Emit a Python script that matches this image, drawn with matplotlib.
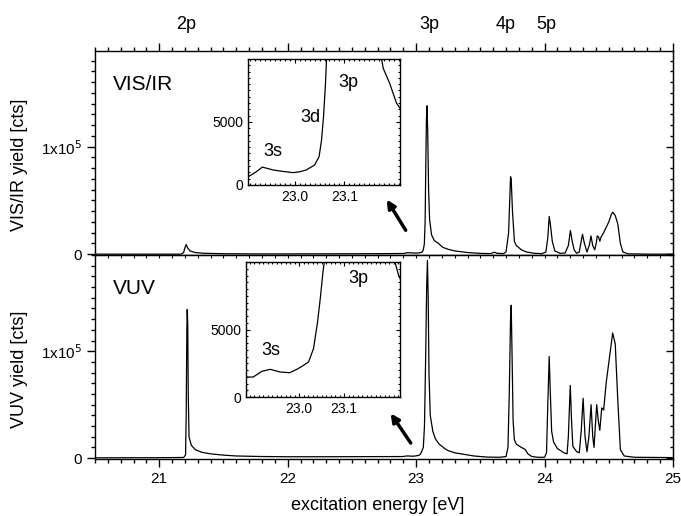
import numpy as np
import matplotlib.pyplot as plt
import matplotlib.transforms as mtransforms
from matplotlib.ticker import MultipleLocator, FixedLocator, NullFormatter

plt.rcParams['font.family'] = ['Liberation Sans', 'DejaVu Sans']

# VIS/IR fluorescence yield (eV, counts)
visir_energy = [20.5, 21.0, 21.17, 21.19, 21.2, 21.21, 21.22, 21.24, 21.28, 21.35, 21.5, 21.8,
                22.3, 22.6, 22.8, 22.88, 22.905, 22.92, 22.934, 22.956, 22.975, 22.996, 23.01,
                23.023, 23.04, 23.049, 23.054, 23.058, 23.062, 23.064, 23.07, 23.075, 23.08,
                23.085, 23.09, 23.097, 23.105, 23.12, 23.14, 23.16, 23.176, 23.179, 23.192,
                23.206, 23.213, 23.25, 23.3, 23.4, 23.5, 23.58, 23.61, 23.63, 23.68, 23.7,
                23.72, 23.73, 23.735, 23.74, 23.75, 23.765, 23.78, 23.82, 23.86, 23.92, 23.98,
                24.01, 24.025, 24.036, 24.045, 24.06, 24.08, 24.12, 24.16, 24.185, 24.201,
                24.215, 24.23, 24.25, 24.27, 24.285, 24.295, 24.31, 24.33, 24.35, 24.361,
                24.375, 24.39, 24.402, 24.41, 24.42, 24.43, 24.44, 24.46, 24.5, 24.52, 24.53,
                24.55, 24.57, 24.59, 24.61, 24.65, 24.8, 25.0]
visir_counts = [0, 0, 0, 1500, 6000, 9000, 6000, 3000, 1500, 800, 400, 200,
                300, 400, 500, 600, 650, 1000, 1420, 1190, 1080, 980, 1050,
                1190, 1590, 2250, 3570, 5420, 8070, 9900, 30000, 80000, 125000,
                138000, 115000, 60000, 32000, 18000, 13000, 11000, 9900, 9260, 8070,
                6480, 6100, 4500, 3000, 1500, 700, 500, 1800, 800, 500, 2000,
                20000, 55000, 72000, 70000, 40000, 12000, 8000, 4000, 2000, 800, 500,
                2000, 15000, 35000, 28000, 12000, 3000, 800, 1000, 8000, 22000,
                12000, 4000, 800, 2000, 12000, 18500, 10000, 2000, 9000, 17000,
                8000, 4000, 10000, 17000, 16000, 12000, 16000, 20000, 30000, 37000, 39000,
                36000, 28000, 10000, 2000, 300, 0, 0]

# VUV fluorescence yield (eV, counts)
vuv_energy = [20.5, 21.0, 21.19, 21.205, 21.21, 21.215, 21.218, 21.222, 21.226, 21.232, 21.25,
              21.28, 21.33, 21.4, 21.5, 21.6, 21.8, 22.0, 22.3, 22.6, 22.8, 22.882, 22.898,
              22.917, 22.936, 22.958, 22.979, 22.995, 23.01, 23.021, 23.032, 23.041, 23.047,
              23.053, 23.056, 23.065, 23.075, 23.082, 23.088, 23.094, 23.1, 23.11, 23.13,
              23.15, 23.18, 23.213, 23.221, 23.25, 23.3, 23.35, 23.45, 23.55, 23.65, 23.7,
              23.715, 23.725, 23.735, 23.74, 23.745, 23.755, 23.765, 23.78, 23.82, 23.85,
              23.87, 23.9, 23.95, 24.0, 24.015, 24.025, 24.036, 24.045, 24.055, 24.07, 24.1,
              24.15, 24.175, 24.185, 24.2, 24.21, 24.22, 24.25, 24.27, 24.285, 24.3, 24.315,
              24.33, 24.345, 24.362, 24.375, 24.385, 24.395, 24.406, 24.418, 24.43, 24.445,
              24.46, 24.48, 24.53, 24.55, 24.57, 24.59, 24.62, 24.7, 25.0]
vuv_counts = [300, 400, 600, 3000, 40000, 120000, 139000, 125000, 60000, 20000, 12000,
              8000, 5500, 4000, 2800, 2000, 1500, 1300, 1300, 1400, 1450, 1480, 1480,
              1900, 2050, 1850, 1800, 2050, 2350, 2600, 3580, 5560, 7290,
              9260, 10000, 30000, 100000, 160000, 185000, 150000, 80000, 40000, 25000,
              18000, 13000, 10000, 9010, 7000, 5000, 4000, 2000, 1000, 800, 1500,
              10000, 60000, 130000, 143000, 110000, 35000, 17000, 13000, 10000, 8000,
              4000, 1500, 800, 800, 5000, 50000, 95000, 60000, 25000, 15000, 9000,
              5000, 4000, 20000, 68000, 35000, 11000, 6000, 5000, 25000, 56000, 20000,
              6000, 20000, 50000, 20000, 10000, 30000, 50000, 35000, 26000, 47000,
              45000, 71000, 117000, 107000, 54000, 8000, 2000, 800, 500]

panel_names = ['VIS/IR', 'VUV']
ylabels = ['VIS/IR yield [cts]', 'VUV yield [cts]']
state_labels = ['2p', '3p', '4p', '5p']
state_energy = [21.21, 23.1, 23.70, 24.01]

fig = plt.figure(figsize=(6.81, 5.16), dpi=100)
ax1 = fig.add_axes([0.1395, 0.5058, 0.8488, 0.3954])
ax2 = fig.add_axes([0.1395, 0.1105, 0.8488, 0.3953])

data = [(visir_energy, visir_counts), (vuv_energy, vuv_counts)]
ytops = [1.89e5, 1.9e5]

for ax, (e, c), name, ytop in zip([ax1, ax2], data, panel_names, ytops):
    ax.plot(e, c, color='black', lw=0.9)
    ax.set_xlim(20.5, 25)
    ax.set_ylim(-800, ytop)
    ax.xaxis.set_major_locator(MultipleLocator(1))
    ax.xaxis.set_minor_locator(MultipleLocator(0.1))
    ax.set_yticks([0, 1e5])
    ax.set_yticklabels(['0', r'1x10$^5$'])
    ax.yaxis.set_minor_locator(MultipleLocator(1e4))
    ax.tick_params(which='major', direction='out', length=6, width=1, labelsize=11)
    ax.tick_params(which='minor', direction='out', length=3, width=1)
    for s in ax.spines.values():
        s.set_linewidth(1.0)
    ax.text(0.031, 0.838, name, transform=ax.transAxes, fontsize=15, va='center')
    # inward ticks on the right side
    sec = ax.secondary_yaxis('right')
    sec.yaxis.set_major_locator(MultipleLocator(1e5))
    sec.yaxis.set_minor_locator(MultipleLocator(1e4))
    sec.yaxis.set_major_formatter(NullFormatter())
    sec.tick_params(which='major', direction='in', length=5, width=1)
    sec.tick_params(which='minor', direction='in', length=2.5, width=1)

ax1.tick_params(axis='x', which='both', top=True, bottom=False, labelbottom=False)
sec_top = ax2.secondary_xaxis('top')
sec_top.xaxis.set_major_locator(MultipleLocator(0.1))
sec_top.xaxis.set_major_formatter(NullFormatter())
sec_top.tick_params(direction='in', length=2, width=0.8)

trans = mtransforms.blended_transform_factory(ax1.transData, fig.transFigure)
for lab, en in zip(state_labels, state_energy):
    ax1.text(en, 0.952, lab, transform=trans, ha='center', va='center', fontsize=13)

# arrows pointing at the insets
ax1.annotate('', xy=(22.76, 53000), xytext=(22.93, 20000),
             arrowprops=dict(arrowstyle='-|>', color='black', lw=2.5, mutation_scale=12))
ax2.annotate('', xy=(22.79, 44000), xytext=(22.97, 12000),
             arrowprops=dict(arrowstyle='-|>', color='black', lw=2.5, mutation_scale=12))

# insets
in1 = fig.add_axes([0.3642, 0.6415, 0.2232, 0.2442])
in2 = fig.add_axes([0.3612, 0.2306, 0.2261, 0.2616])
inset_xlims = [(22.905, 23.213), (22.882, 23.224)]
inset_labels = [[('3s', 0.164, 0.262), ('3d', 0.408, 0.532), ('3p', 0.658, 0.81)],
                [('3s', 0.162, 0.348), ('3p', 0.727, 0.881)]]
for ax, (e, c), xl, labs in zip([in1, in2], data, inset_xlims, inset_labels):
    ax.plot(e, c, color='black', lw=0.9)
    ax.set_xlim(*xl)
    ax.set_ylim(0, 10000)
    ax.xaxis.set_major_locator(FixedLocator([23.0, 23.1]))
    ax.set_xticklabels(['23.0', '23.1'])
    ax.xaxis.set_minor_locator(MultipleLocator(0.01))
    ax.set_yticks([0, 5000])
    ax.set_yticklabels(['0', '5000'])
    ax.yaxis.set_minor_locator(MultipleLocator(500))
    ax.tick_params(which='both', direction='in', top=True, right=True, width=0.8, labelsize=10)
    ax.tick_params(which='major', length=3)
    ax.tick_params(which='minor', length=1.5)
    for s in ax.spines.values():
        s.set_linewidth(1.0)
    for t, xf, yf in labs:
        ax.text(xf, yf, t, transform=ax.transAxes, fontsize=13, ha='center', va='center')

fig.text(0.029, 0.68, ylabels[0], rotation=90, ha='center', va='center', fontsize=13)
fig.text(0.029, 0.285, ylabels[1], rotation=90, ha='center', va='center', fontsize=13)
fig.text(0.554, 0.003, 'excitation energy [eV]', ha='center', va='bottom', fontsize=13)

fig.savefig('out.png', dpi=100)
